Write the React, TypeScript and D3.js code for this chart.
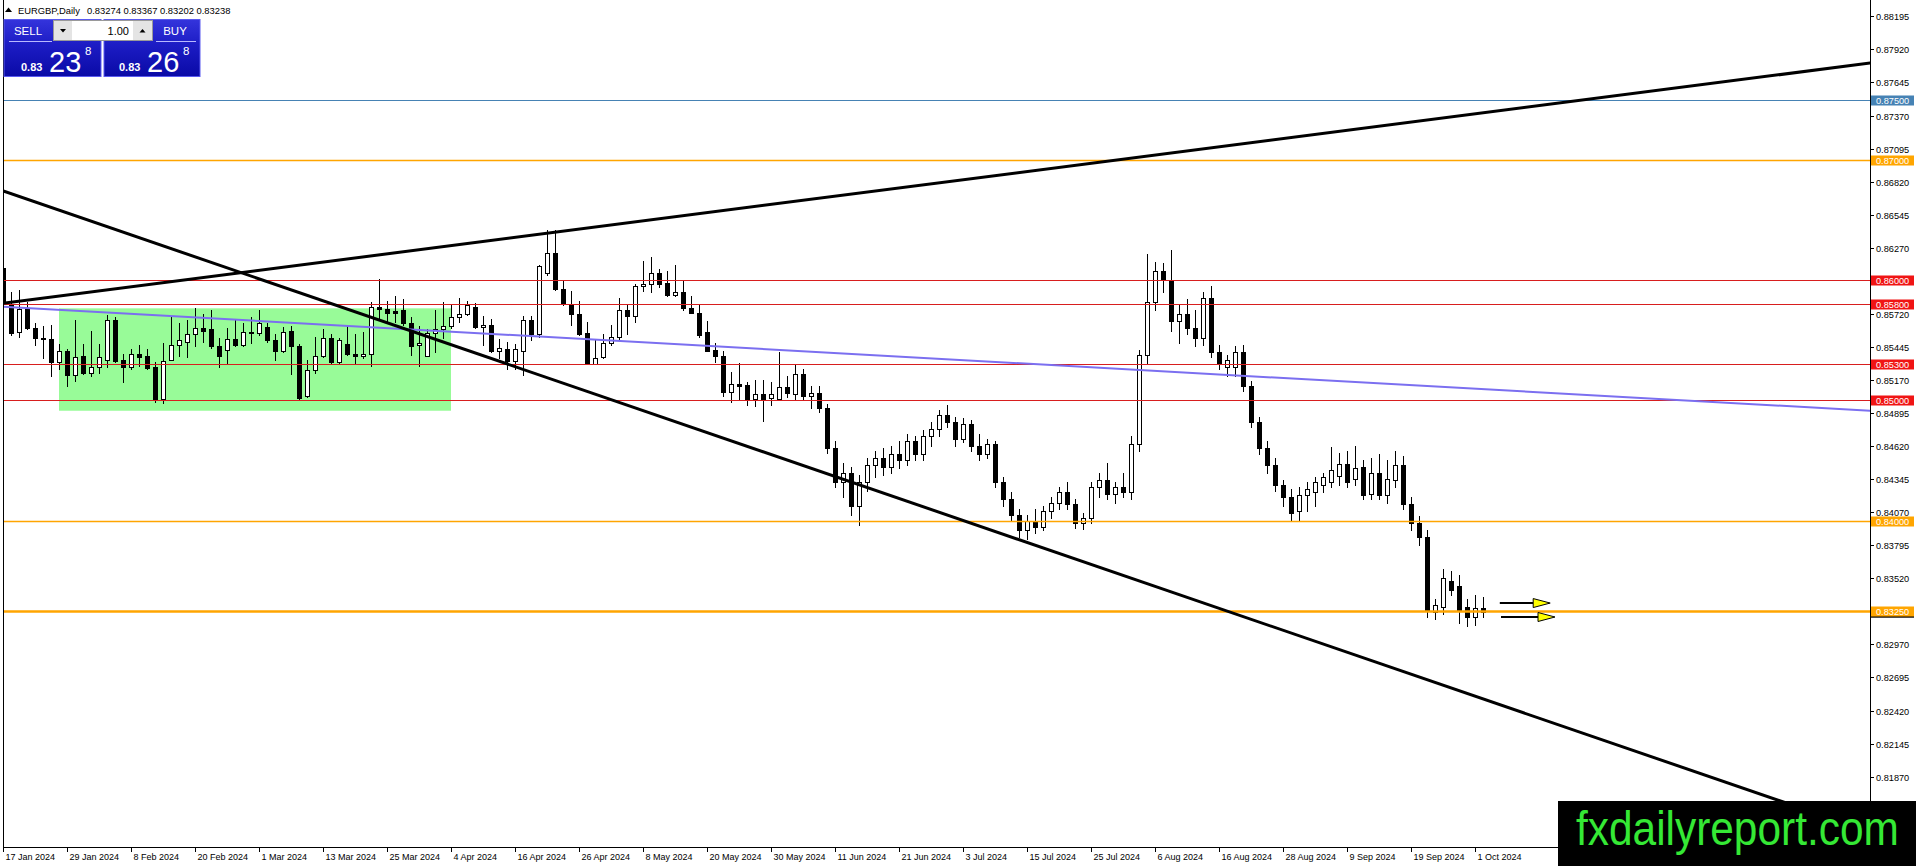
import React from "react";
import * as d3 from "d3";

// ---------------- DATA ----------------
const opens = [
  0.861, 0.8579, 0.8557, 0.8576, 0.856, 0.8552, 0.8551, 0.8532, 0.8541, 0.8521,
  0.8537, 0.8523, 0.8528, 0.8534, 0.8567, 0.8534, 0.8528, 0.8539, 0.8537, 0.8528,
  0.8501, 0.8534, 0.8546, 0.8549, 0.8555, 0.856, 0.8559, 0.8545, 0.8542, 0.8551,
  0.8546, 0.8557, 0.8556, 0.8561, 0.855, 0.8541, 0.8558, 0.8545, 0.8504, 0.8525,
  0.8537, 0.8552, 0.8532, 0.8547, 0.8539, 0.8537, 0.8539, 0.8578, 0.8576, 0.8574,
  0.8575, 0.8564, 0.8546, 0.8537, 0.8556, 0.8559, 0.8562, 0.8569, 0.8572, 0.8578,
  0.8561, 0.8563, 0.8541, 0.8543, 0.8533, 0.8541, 0.8567, 0.8555, 0.8606, 0.8623,
  0.8593, 0.858, 0.8572, 0.8556, 0.853, 0.8536, 0.8548, 0.8553, 0.8575, 0.857,
  0.8595, 0.8597, 0.8606, 0.8598, 0.8588, 0.859, 0.8577, 0.8573, 0.8557, 0.8542,
  0.8537, 0.8507, 0.8514, 0.8513, 0.8501, 0.8505, 0.8502, 0.8501, 0.8511, 0.8505,
  0.8522, 0.8504, 0.8506, 0.8494, 0.846, 0.8432, 0.844, 0.8412, 0.8432, 0.8446,
  0.8452, 0.8445, 0.8455, 0.845, 0.8466, 0.8455, 0.847, 0.8476, 0.8488, 0.8482,
  0.8468, 0.848, 0.8462, 0.8455, 0.8464, 0.8432, 0.8418, 0.8405, 0.8392, 0.84,
  0.8395, 0.8408, 0.8415, 0.8424, 0.8414, 0.8398, 0.8402, 0.8428, 0.8434, 0.8422,
  0.8428, 0.8424, 0.8464, 0.8538, 0.8582, 0.8608, 0.86, 0.8566, 0.8572, 0.856,
  0.8552, 0.8585, 0.854, 0.8528, 0.8528, 0.854, 0.8512, 0.8482, 0.846, 0.8446,
  0.843, 0.842, 0.8408, 0.8421, 0.8424, 0.843, 0.8432, 0.8437, 0.8447, 0.8435,
  0.8445, 0.8422, 0.844, 0.8421, 0.8434, 0.8446, 0.8414, 0.8398, 0.8386, 0.8324,
  0.8328, 0.835, 0.8346, 0.8328, 0.832, 0.83274,
];
const highs = [
  0.8618, 0.859, 0.8592, 0.8582, 0.8564, 0.8562, 0.8563, 0.8547, 0.8543, 0.8567,
  0.8547, 0.8558, 0.8547, 0.8571, 0.8569, 0.8539, 0.8543, 0.8546, 0.8543, 0.8532,
  0.8548, 0.8569, 0.8564, 0.8567, 0.8577, 0.8572, 0.8575, 0.8552, 0.856, 0.8567,
  0.8564, 0.8569, 0.8575, 0.8564, 0.8555, 0.8561, 0.8562, 0.8547, 0.8534, 0.8553,
  0.8559, 0.8555, 0.8552, 0.8563, 0.8555, 0.8557, 0.8582, 0.8601, 0.8583, 0.8587,
  0.8584, 0.8569, 0.8562, 0.8559, 0.8575, 0.8582, 0.8579, 0.8585, 0.8583, 0.8581,
  0.857, 0.8568, 0.8551, 0.8549, 0.8547, 0.857, 0.857, 0.8613, 0.8642, 0.8642,
  0.8599, 0.8591, 0.8583, 0.8565, 0.855, 0.8555, 0.8563, 0.8585, 0.8579, 0.8597,
  0.8616, 0.8619, 0.8609, 0.8608, 0.8613, 0.8599, 0.8587, 0.8579, 0.8566, 0.8548,
  0.8541, 0.8524, 0.8531, 0.8515, 0.8517, 0.8517, 0.8515, 0.854, 0.852, 0.853,
  0.8526, 0.8512, 0.8512, 0.8497, 0.8466, 0.8448, 0.8445, 0.8438, 0.8452, 0.8458,
  0.846, 0.8462, 0.8466, 0.8472, 0.847, 0.8475, 0.8482, 0.8492, 0.8496, 0.8486,
  0.8485, 0.8484, 0.8472, 0.8468, 0.8466, 0.8436, 0.8424, 0.841, 0.8405, 0.841,
  0.8412, 0.842, 0.8428, 0.8432, 0.8418, 0.8406, 0.8432, 0.844, 0.8448, 0.8432,
  0.844, 0.847, 0.8542, 0.8622, 0.8615, 0.8614, 0.8625, 0.858, 0.8584, 0.8575,
  0.859, 0.8595, 0.8546, 0.8538, 0.8545, 0.8546, 0.8516, 0.8486, 0.8466, 0.8452,
  0.8434, 0.8426, 0.8428, 0.8432, 0.8436, 0.844, 0.8461, 0.8456, 0.8458, 0.8462,
  0.845, 0.8452, 0.8455, 0.845, 0.8458, 0.8454, 0.842, 0.8404, 0.8392, 0.8335,
  0.836, 0.8358, 0.8355, 0.8335, 0.8338, 0.83367,
];
const lows = [
  0.8566, 0.8554, 0.8553, 0.8559, 0.8546, 0.8535, 0.852, 0.8526, 0.8512, 0.8516,
  0.8522, 0.852, 0.8523, 0.8528, 0.8532, 0.8515, 0.8526, 0.8529, 0.8526, 0.8499,
  0.8498, 0.8534, 0.8537, 0.8536, 0.8545, 0.8549, 0.8544, 0.8528, 0.853, 0.8545,
  0.8545, 0.8548, 0.8554, 0.8549, 0.8534, 0.854, 0.8522, 0.8501, 0.8503, 0.8523,
  0.8536, 0.853, 0.853, 0.8538, 0.8531, 0.8535, 0.8529, 0.8567, 0.8565, 0.8565,
  0.8563, 0.8538, 0.8529, 0.8537, 0.854, 0.8552, 0.856, 0.8565, 0.8571, 0.856,
  0.8546, 0.854, 0.8535, 0.8526, 0.8526, 0.8521, 0.855, 0.8553, 0.8604, 0.8592,
  0.8579, 0.8563, 0.8554, 0.853, 0.853, 0.8535, 0.8546, 0.8551, 0.8555, 0.8565,
  0.8591, 0.859, 0.8594, 0.8587, 0.8587, 0.8575, 0.8573, 0.8553, 0.8541, 0.8532,
  0.8504, 0.8499, 0.85, 0.8496, 0.8495, 0.8483, 0.8496, 0.85, 0.8503, 0.85,
  0.85, 0.8494, 0.849, 0.8456, 0.8428, 0.842, 0.8405, 0.8396, 0.8425, 0.8436,
  0.8438, 0.844, 0.8444, 0.8446, 0.845, 0.845, 0.8462, 0.847, 0.8478, 0.8462,
  0.8465, 0.8458, 0.845, 0.8452, 0.8428, 0.8412, 0.84, 0.8386, 0.8385, 0.839,
  0.8392, 0.8402, 0.841, 0.841, 0.8394, 0.8393, 0.8398, 0.842, 0.8418, 0.8415,
  0.842, 0.8418, 0.8458, 0.853, 0.8575, 0.859, 0.8558, 0.8548, 0.8555, 0.8545,
  0.8546, 0.8536, 0.8526, 0.852, 0.852, 0.8508, 0.8478, 0.8455, 0.844, 0.8425,
  0.8412, 0.84, 0.84, 0.8408, 0.8412, 0.8424, 0.8428, 0.843, 0.8428, 0.843,
  0.8418, 0.8418, 0.8418, 0.8415, 0.8428, 0.841, 0.8392, 0.838, 0.832, 0.8318,
  0.8322, 0.8338, 0.8315, 0.8312, 0.8313, 0.83202,
];
const closes = [
  0.858, 0.8556, 0.8576, 0.856, 0.8552, 0.8551, 0.8532, 0.8541, 0.8521, 0.8536,
  0.8523, 0.8528, 0.8536, 0.8567, 0.8533, 0.8528, 0.8539, 0.8536, 0.8527, 0.85,
  0.8533, 0.8546, 0.855, 0.8555, 0.856, 0.8558, 0.8545, 0.8537, 0.8551, 0.8546,
  0.8557, 0.8556, 0.8564, 0.855, 0.8541, 0.8557, 0.8545, 0.8502, 0.8525, 0.8537,
  0.8552, 0.8532, 0.855, 0.8539, 0.8537, 0.8539, 0.8578, 0.8576, 0.8573, 0.8573,
  0.8564, 0.8545, 0.8548, 0.8556, 0.8559, 0.8562, 0.8569, 0.8572, 0.8579, 0.8561,
  0.8563, 0.8541, 0.8544, 0.8533, 0.8543, 0.8567, 0.8555, 0.8612, 0.8623, 0.8593,
  0.858, 0.8572, 0.8555, 0.853, 0.8535, 0.8548, 0.8553, 0.8575, 0.857, 0.8595,
  0.8597, 0.8606, 0.8597, 0.8588, 0.859, 0.8577, 0.8573, 0.8554, 0.8541, 0.8537,
  0.8507, 0.8514, 0.8512, 0.8501, 0.8505, 0.85, 0.8505, 0.8511, 0.8506, 0.8522,
  0.8504, 0.8506, 0.8494, 0.846, 0.8432, 0.844, 0.8412, 0.8432, 0.8446, 0.8452,
  0.8445, 0.8455, 0.845, 0.8466, 0.8455, 0.847, 0.8476, 0.8488, 0.8482, 0.8468,
  0.848, 0.8462, 0.8455, 0.8464, 0.8432, 0.8418, 0.8405, 0.8392, 0.84, 0.8395,
  0.8408, 0.8415, 0.8424, 0.8414, 0.8398, 0.8402, 0.8428, 0.8434, 0.8422, 0.8428,
  0.8424, 0.8464, 0.8538, 0.8582, 0.8608, 0.86, 0.8566, 0.8572, 0.856, 0.8552,
  0.8585, 0.854, 0.853, 0.8534, 0.854, 0.8512, 0.8482, 0.846, 0.8446, 0.843,
  0.842, 0.8406, 0.8421, 0.8426, 0.8432, 0.8436, 0.8442, 0.8447, 0.8432, 0.8444,
  0.8421, 0.844, 0.8421, 0.8435, 0.8446, 0.8414, 0.8398, 0.8386, 0.8325, 0.833,
  0.8352, 0.8342, 0.8325, 0.832, 0.8327, 0.83238,
];

const timeTickBars = [0, 8, 16, 24, 32, 40, 48, 56, 64, 72, 80, 88, 96, 104, 112, 120, 128, 136, 144, 152, 160, 168, 176, 184];
const timeTickLabels = [
  "17 Jan 2024", "29 Jan 2024", "8 Feb 2024", "20 Feb 2024", "1 Mar 2024", "13 Mar 2024",
  "25 Mar 2024", "4 Apr 2024", "16 Apr 2024", "26 Apr 2024", "8 May 2024", "20 May 2024",
  "30 May 2024", "11 Jun 2024", "21 Jun 2024", "3 Jul 2024", "15 Jul 2024", "25 Jul 2024",
  "6 Aug 2024", "16 Aug 2024", "28 Aug 2024", "9 Sep 2024", "19 Sep 2024", "1 Oct 2024",
];

const priceTicks = [
  0.88195, 0.8792, 0.87645, 0.8737, 0.87095, 0.8682, 0.86545, 0.8627, 0.85995, 0.8572,
  0.85445, 0.8517, 0.84895, 0.8462, 0.84345, 0.8407, 0.83795, 0.8352, 0.83245, 0.8297,
  0.82695, 0.8242, 0.82145, 0.8187,
];

const levelPrices = [0.875, 0.87, 0.86, 0.858, 0.853, 0.85, 0.84, 0.8325];
const levelKinds = ["blue", "orange", "red", "red", "red", "red", "orange", "orangeThick"];

// trend lines: [startBar, startPrice, endBar, endPrice]
const risingTrend = [0, 0.85808, 233.4, 0.87807];
const fallingTrend = [-0.4, 0.86752, 233.4, 0.81411];
const channelMid = [0, 0.8578, 233.4, 0.84914];

// green zone
const zoneBars = [7, 56];
const zonePrices = [0.85766, 0.84914];

// arrows
const arrowStartBars = [187.1, 187.25];
const arrowEndBars = [193.4, 194.0];
const arrowPrices = [0.83314, 0.83198];

const bidPrice = 0.83238;

// ---------------- STYLE ----------------
const FONT = "'Liberation Sans', Arial, Helvetica, sans-serif";
const levelStroke: Record<string, string> = {
  blue: "#4682b4",
  orange: "#ffa500",
  orangeThick: "#ffa500",
  red: "#d81e1e",
};
const levelBox: Record<string, string> = {
  blue: "#4682b4",
  orange: "#ffa500",
  orangeThick: "#ffa500",
  red: "#f01414",
};
const levelWidth: Record<string, number> = { blue: 1.2, orange: 1.6, orangeThick: 2.6, red: 1.1 };

const PLOT_L = 3;
const PLOT_R = 1870;
const PLOT_B = 847;

export default function App() {
  const lastBar = opens.length - 1;
  const x = d3.scaleLinear().domain([0, lastBar]).range([3, 3 + 8 * lastBar]);
  const y = d3.scaleLinear().domain([0.84, 0.8325]).range([520.6, 610.75]);

  const candles = opens.map((o, i) => {
    const c = closes[i];
    const h = highs[i];
    const l = lows[i];
    const cx = Math.round(x(i));
    const top = Math.round(y(Math.max(o, c)));
    const bot = Math.round(y(Math.min(o, c)));
    const bull = c >= o;
    return (
      <g key={i}>
        <line x1={cx + 0.5} x2={cx + 0.5} y1={Math.round(y(h))} y2={Math.round(y(l)) + 1} stroke="#000" strokeWidth={1} />
        {bot - top >= 1 ? (
          <rect x={cx - 1.5} y={top + 0.5} width={4} height={bot - top} fill={bull ? "#fff" : "#000"} stroke="#000" strokeWidth={1} />
        ) : (
          <line x1={cx - 2} x2={cx + 3} y1={top + 0.5} y2={top + 0.5} stroke="#000" strokeWidth={1} />
        )}
      </g>
    );
  });

  const trend = (t: number[], color: string, w: number, key: string) => (
    <line key={key} x1={x(t[0])} y1={y(t[1])} x2={x(t[2])} y2={y(t[3])} stroke={color} strokeWidth={w} />
  );

  const lastO = opens[lastBar].toFixed(5);
  const lastH = highs[lastBar].toFixed(5);
  const lastL = lows[lastBar].toFixed(5);
  const lastC = closes[lastBar].toFixed(5);

  return (
    <div>
      <style>{`html,body{margin:0;padding:0;background:#fff;overflow:hidden}`}</style>
      <svg width={1916} height={866} style={{ display: "block" }} fontFamily={FONT}>
        <defs>
          <clipPath id="plotClip">
            <rect x={PLOT_L} y={0} width={PLOT_R - PLOT_L} height={PLOT_B} />
          </clipPath>
          <linearGradient id="panelGrad" x1="0" y1="0" x2="0" y2="1">
            <stop offset="0" stopColor="#3434dc" />
            <stop offset="0.45" stopColor="#1c1cc4" />
            <stop offset="1" stopColor="#0a0aa6" />
          </linearGradient>
        </defs>
        <rect x={0} y={0} width={1916} height={866} fill="#fff" />

        <g clipPath="url(#plotClip)">
          {/* green zone */}
          <rect
            x={x(zoneBars[0])}
            y={y(zonePrices[0])}
            width={x(zoneBars[1]) - x(zoneBars[0])}
            height={y(zonePrices[1]) - y(zonePrices[0])}
            fill="#98fb98"
          />
          {candles}
          {/* horizontal levels */}
          {levelPrices.map((p, i) => {
            const yy = Math.round(y(p)) + 0.5;
            return (
              <line key={"lv" + i} x1={PLOT_L} x2={PLOT_R} y1={yy} y2={yy} stroke={levelStroke[levelKinds[i]]} strokeWidth={levelWidth[levelKinds[i]]} />
            );
          })}
          {trend(channelMid, "#7b6ff0", 2, "mid")}
          {trend(risingTrend, "#000", 3, "rise")}
          {trend(fallingTrend, "#000", 3, "fall")}
          {/* arrows */}
          {arrowPrices.map((p, i) => {
            const x0 = x(arrowStartBars[i]);
            const x1 = x(arrowEndBars[i]);
            const yy = y(p);
            return (
              <g key={"ar" + i}>
                <line x1={x0} x2={x1 - 17} y1={yy} y2={yy} stroke="#000" strokeWidth={2} />
                <path d={`M${x1 - 17},${yy - 4.5} L${x1},${yy} L${x1 - 17},${yy + 4.5} Z`} fill="#ffff00" stroke="#000" strokeWidth={1} />
              </g>
            );
          })}
        </g>

        {/* frame */}
        <line x1={PLOT_L + 0.5} x2={PLOT_L + 0.5} y1={0} y2={PLOT_B} stroke="#000" strokeWidth={1} />
        <line x1={PLOT_L} x2={PLOT_R} y1={PLOT_B + 0.5} y2={PLOT_B + 0.5} stroke="#000" strokeWidth={1} />
        <line x1={PLOT_R + 0.5} x2={PLOT_R + 0.5} y1={0} y2={PLOT_B} stroke="#000" strokeWidth={1} />

        {/* price axis ticks */}
        {priceTicks.map((p, i) => {
          const yy = Math.round(y(p)) + 0.5;
          return (
            <g key={"pt" + i}>
              <line x1={PLOT_R} x2={PLOT_R + 4} y1={yy} y2={yy} stroke="#000" strokeWidth={1} />
              <text x={1876} y={yy} dy="0.35em" fontSize={9.2} fill="#000">
                {p.toFixed(5)}
              </text>
            </g>
          );
        })}
        {/* bid label (mostly hidden) */}
        <rect x={1871} y={y(bidPrice) - 5} width={43} height={10.5} fill="#000" />
        {/* level boxes */}
        {levelPrices.map((p, i) => {
          const yy = Math.round(y(p)) + 0.5;
          return (
            <g key={"lb" + i}>
              <rect x={1871} y={yy - 5} width={43} height={10} fill={levelBox[levelKinds[i]]} />
              <text x={1876} y={yy} dy="0.35em" fontSize={9.2} fill="#fff">
                {p.toFixed(5)}
              </text>
            </g>
          );
        })}

        {/* time axis */}
        {timeTickBars.map((b, i) => {
          const xx = Math.round(x(b)) + 0.5;
          return (
            <g key={"tt" + i}>
              <line x1={xx} x2={xx} y1={PLOT_B} y2={PLOT_B + 5} stroke="#000" strokeWidth={1} />
              <text x={xx + 2} y={860} fontSize={9} fill="#000">
                {timeTickLabels[i]}
              </text>
            </g>
          );
        })}

        {/* header */}
        <path d="M5,12 L8.5,7.5 L12,12 Z" fill="#000" />
        <text x={18} y={13.5} fontSize={9.4} fill="#000">EURGBP,Daily</text>
        <text x={87} y={13.5} fontSize={9.4} fill="#000">{`${lastO} ${lastH} ${lastL} ${lastC}`}</text>

        {/* one-click trading panel */}
        <rect x={4} y={19.5} width={97} height={57} fill="url(#panelGrad)" stroke="#5a5af0" strokeWidth={1} />
        <rect x={104} y={19.5} width={96} height={57} fill="url(#panelGrad)" stroke="#5a5af0" strokeWidth={1} />
        <line x1={9} x2={52} y1={41.5} y2={41.5} stroke="#b8b8ff" strokeWidth={1} />
        <line x1={156} x2={196} y1={41.5} y2={41.5} stroke="#b8b8ff" strokeWidth={1} />
        <text x={28} y={35} fontSize={11.5} fill="#fff" textAnchor="middle">SELL</text>
        <text x={175} y={35} fontSize={11.5} fill="#fff" textAnchor="middle">BUY</text>
        <rect x={53.5} y={20.5} width={99} height={20} fill="#fff" stroke="#9a9a9a" strokeWidth={1} />
        <rect x={54} y={21} width={18} height={19} fill="#e4e4e4" />
        <rect x={133} y={21} width={19} height={19} fill="#e4e4e4" />
        <path d="M60,29 L66,29 L63,32.5 Z" fill="#000" />
        <path d="M139.5,32.5 L145.5,32.5 L142.5,29 Z" fill="#000" />
        <text x={129} y={34.5} fontSize={11} fill="#000" textAnchor="end">1.00</text>
        <text x={21} y={71} fontSize={11} fontWeight="bold" fill="#fff">0.83</text>
        <text x={49} y={72} fontSize={29} fill="#fff">23</text>
        <text x={85} y={55} fontSize={11.5} fill="#fff">8</text>
        <text x={119} y={71} fontSize={11} fontWeight="bold" fill="#fff">0.83</text>
        <text x={147} y={72} fontSize={29} fill="#fff">26</text>
        <text x={183} y={55} fontSize={11.5} fill="#fff">8</text>

        {/* watermark */}
        <rect x={1558} y={801} width={358} height={65} fill="#000" />
        <g transform="translate(1576,845) scale(1,1.13)">
          <text x={0} y={0} fontSize={42.4} fill="#35e835">
            fxdailyreport.com
          </text>
        </g>
      </svg>
    </div>
  );
}
